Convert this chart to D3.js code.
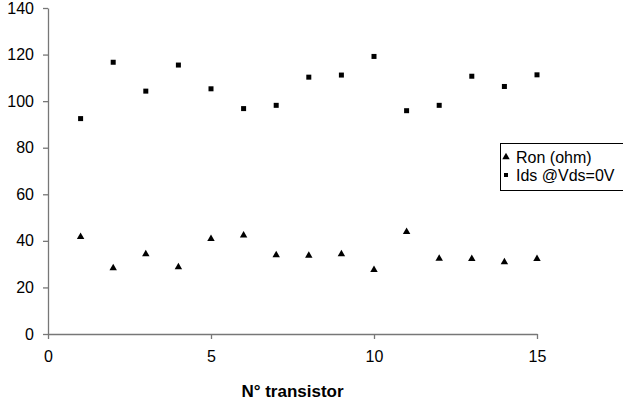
<!DOCTYPE html>
<html lang='en'>
<head>
<meta charset='utf-8'>
<title>Ron / Ids per transistor</title>
<script src='https://cdn.jsdelivr.net/npm/d3@7'></script>
<style>
  body { margin: 0; background: #fff; }
  text { font-family: 'Liberation Sans', Arial, sans-serif; }
</style>
</head>
<body>
<script>
// values
var transistors = [1, 2, 3, 4, 5, 6, 7, 8, 9, 10, 11, 12, 13, 14, 15];
var ron = [41.7, 28.3, 34.3, 28.7, 40.9, 42.4, 33.9, 33.7, 34.3, 27.6, 43.9, 32.4, 32.3, 30.9, 32.3];
var ids = [92.5, 116.7, 104.3, 115.5, 105.3, 96.8, 98.2, 110.3, 111.2, 119.2, 95.9, 98.2, 110.7, 106.3, 111.3];
var xTicks = [0, 5, 10, 15];
var yTicks = [0, 20, 40, 60, 80, 100, 120, 140];
var seriesNames = ['Ron (ohm)', 'Ids @Vds=0V'];

var width = 623, height = 405;
var svg = d3.select('body').append('svg').attr('width', width).attr('height', height);

var x = d3.scaleLinear().domain([0, 15]).range([48, 537]);
var y = d3.scaleLinear().domain([0, 140]).range([334, 8]);

var axisColor = '#777';

// x axis
var gx = svg.append('g').attr('transform', 'translate(0,' + y(0) + ')')
  .call(d3.axisBottom(x).tickValues(xTicks).tickSize(5).tickPadding(12).tickSizeOuter(0));
// y axis
var gy = svg.append('g').attr('transform', 'translate(' + x(0) + ',0)')
  .call(d3.axisLeft(y).tickValues(yTicks).tickSize(5).tickPadding(9).tickSizeOuter(0));

[gx, gy].forEach(function(g) {
  g.selectAll('path, line').attr('stroke', axisColor).attr('stroke-width', 1.3);
  g.selectAll('text').attr('fill', '#000').style('font-size', '16px')
    .style('font-family', "'Liberation Sans', Arial, sans-serif");
});

svg.append('text')
  .attr('x', (x(0) + x(15)) / 2).attr('y', 397)
  .attr('text-anchor', 'middle')
  .style('font-size', '17px').style('font-weight', 'bold')
  .text('N° transistor');

var tri = d3.symbol().type(d3.symbolTriangle).size(24);

svg.append('g').selectAll('path').data(transistors).enter().append('path')
  .attr('d', tri)
  .attr('transform', function(d, i) { return 'translate(' + x(d) + ',' + y(ron[i]) + ')'; })
  .attr('fill', '#000');

svg.append('g').selectAll('rect').data(transistors).enter().append('rect')
  .attr('x', function(d) { return x(d) - 2.5; })
  .attr('y', function(d, i) { return y(ids[i]) - 2.5; })
  .attr('width', 5).attr('height', 5)
  .attr('fill', '#000');

// legend
var lg = svg.append('g');
lg.append('rect').attr('x', 500.5).attr('y', 143.5).attr('width', 125).attr('height', 47)
  .attr('fill', '#fff').attr('stroke', '#000').attr('stroke-width', 1);
lg.append('path').attr('d', tri).attr('transform', 'translate(506,157)').attr('fill', '#000');
lg.append('rect').attr('x', 504).attr('y', 173).attr('width', 4).attr('height', 4).attr('fill', '#000');
lg.selectAll('text.lab').data(seriesNames).enter().append('text')
  .attr('class', 'lab')
  .attr('x', 516).attr('y', function(d, i) { return 163 + i * 17.5; })
  .style('font-size', '16px')
  .text(function(d) { return d; });
</script>
</body>
</html>
